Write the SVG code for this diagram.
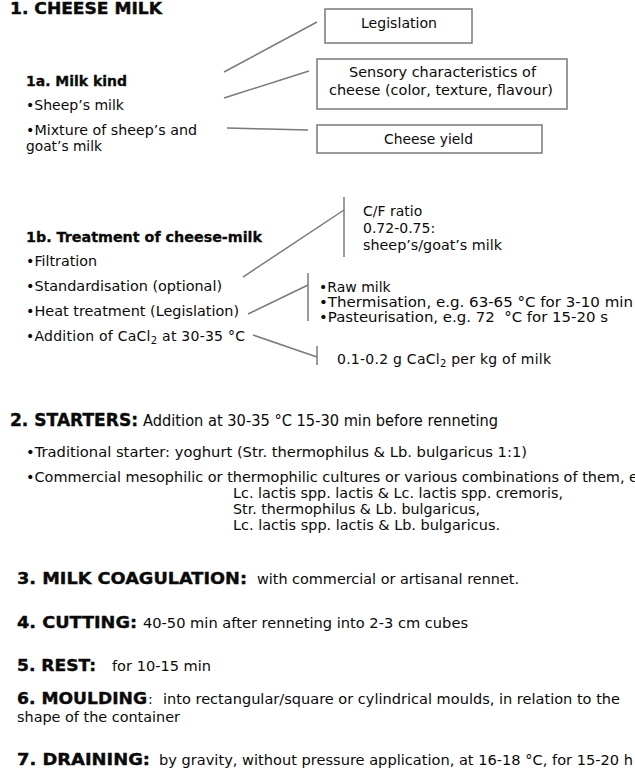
<svg xmlns="http://www.w3.org/2000/svg" width="635" height="774" viewBox="0 0 635 774">
<style>
text{font-family:"DejaVu Sans",Verdana,"Liberation Sans",sans-serif;font-size:14px;fill:#0a0a0a}
.b{font-weight:bold;stroke:#0a0a0a;stroke-width:0.3}
.h1{font-size:15px;font-weight:bold;stroke:#0a0a0a;stroke-width:0.4}
.h2{font-size:18px;font-weight:bold;stroke:#0a0a0a;stroke-width:0.4}
.h3{font-size:16.5px;font-weight:bold;stroke:#0a0a0a;stroke-width:0.4}
.s15{font-size:15px}
.ls{letter-spacing:0.25px}
.box{fill:#fff;stroke:#7a7a7a;stroke-width:1.5}
.ln{stroke:#7a7a7a;stroke-width:1.5;fill:none}
.sub{font-size:10px}
</style>
<rect width="635" height="774" fill="#fff"/>

<g id="connectors">
  <line class="ln" x1="224" y1="72" x2="317" y2="22"/>
  <line class="ln" x1="224" y1="98" x2="309" y2="71"/>
  <polyline class="ln" points="227,128 268,129 308,130"/>
  <line class="ln" x1="243" y1="277" x2="344" y2="210"/>
  <line class="ln" x1="344" y1="197" x2="344" y2="257"/>
  <line class="ln" x1="248" y1="314" x2="308" y2="285"/>
  <line class="ln" x1="308" y1="273" x2="308" y2="321"/>
  <line class="ln" x1="253" y1="335" x2="317" y2="357"/>
  <line class="ln" x1="317" y1="346" x2="317" y2="365"/>
</g>

<g id="title1">
  <text class="h1" x="10" y="14" textLength="152" lengthAdjust="spacingAndGlyphs">1. CHEESE MILK</text>
</g>

<g id="milk-kind">
  <text class="b" x="26" y="86" textLength="101" lengthAdjust="spacingAndGlyphs">1a. Milk kind</text>
  <text x="26" y="110" textLength="98" lengthAdjust="spacingAndGlyphs">•Sheep’s milk</text>
  <text x="26" y="135" textLength="171" lengthAdjust="spacingAndGlyphs">•Mixture of sheep’s and</text>
  <text x="26" y="151" textLength="76" lengthAdjust="spacingAndGlyphs">goat’s milk</text>
</g>

<g id="legislation">
  <rect class="box" x="325" y="9" width="147" height="34"/>
  <text x="361" y="28" textLength="76" lengthAdjust="spacingAndGlyphs">Legislation</text>
</g>

<g id="sensory">
  <rect class="box" x="317" y="59" width="250" height="50"/>
  <text x="349" y="77" textLength="187" lengthAdjust="spacingAndGlyphs">Sensory characteristics of</text>
  <text x="329" y="95" textLength="224" lengthAdjust="spacingAndGlyphs">cheese (color, texture, flavour)</text>
</g>

<g id="yield">
  <rect class="box" x="317" y="125" width="225" height="28"/>
  <text x="384" y="144" textLength="89" lengthAdjust="spacingAndGlyphs">Cheese yield</text>
</g>

<g id="treatment">
  <text class="b" x="26" y="242" textLength="236" lengthAdjust="spacingAndGlyphs">1b. Treatment of cheese-milk</text>
  <text x="26" y="266" textLength="71" lengthAdjust="spacingAndGlyphs">•Filtration</text>
  <text x="26" y="291" textLength="196" lengthAdjust="spacingAndGlyphs">•Standardisation (optional)</text>
  <text x="26" y="316" textLength="213" lengthAdjust="spacingAndGlyphs">•Heat treatment (Legislation)</text>
  <text class="ls" x="26" y="341">•Addition of CaCl<tspan class="sub" dy="3">2</tspan><tspan dy="-3"> at 30-35 °C</tspan></text>
</g>

<g id="cf-ratio">
  <text x="363" y="216">C/F ratio</text>
  <text x="363" y="233">0.72-0.75:</text>
  <text x="363" y="250" textLength="139" lengthAdjust="spacingAndGlyphs">sheep’s/goat’s milk</text>
</g>

<g id="heat-options">
  <text x="319" y="292">•Raw milk</text>
  <text x="319" y="307" textLength="314" lengthAdjust="spacingAndGlyphs">•Thermisation, e.g. 63-65 °C for 3-10 min</text>
  <text x="319" y="322" textLength="289" lengthAdjust="spacingAndGlyphs">•Pasteurisation, e.g. 72 &#160;°C for 15-20 s</text>
</g>

<g id="cacl2">
  <text class="ls" x="337" y="364">0.1-0.2 g CaCl<tspan class="sub" dy="3">2</tspan><tspan dy="-3"> per kg of milk</tspan></text>
</g>

<g id="starters">
  <text class="h2" x="10" y="426" textLength="128" lengthAdjust="spacingAndGlyphs">2. STARTERS:</text>
  <text class="s15" x="143" y="426" textLength="355" lengthAdjust="spacingAndGlyphs">Addition at 30-35 °C 15-30 min before renneting</text>
  <text x="26" y="457" textLength="501" lengthAdjust="spacingAndGlyphs">•Traditional starter: yoghurt (Str. thermophilus &amp; Lb. bulgaricus 1:1)</text>
  <text x="26" y="482" textLength="612" lengthAdjust="spacingAndGlyphs">•Commercial mesophilic or thermophilic cultures or various combinations of them, e</text>
  <text x="233" y="498" textLength="330" lengthAdjust="spacingAndGlyphs">Lc. lactis spp. lactis &amp; Lc. lactis spp. cremoris,</text>
  <text x="233" y="514" textLength="247" lengthAdjust="spacingAndGlyphs">Str. thermophilus &amp; Lb. bulgaricus,</text>
  <text x="233" y="530" textLength="267" lengthAdjust="spacingAndGlyphs">Lc. lactis spp. lactis &amp; Lb. bulgaricus.</text>
</g>

<g id="coagulation">
  <text class="h3" x="17" y="584" textLength="230" lengthAdjust="spacingAndGlyphs">3. MILK COAGULATION:</text>
  <text x="257" y="584" textLength="262" lengthAdjust="spacingAndGlyphs">with commercial or artisanal rennet.</text>
</g>

<g id="cutting">
  <text class="h3" x="17" y="628" textLength="120" lengthAdjust="spacingAndGlyphs">4. CUTTING:</text>
  <text x="143" y="628" textLength="325" lengthAdjust="spacingAndGlyphs">40-50 min after renneting into 2-3 cm cubes</text>
</g>

<g id="rest">
  <text class="h3" x="17" y="671" textLength="79" lengthAdjust="spacingAndGlyphs">5. REST:</text>
  <text x="112" y="671" textLength="99" lengthAdjust="spacingAndGlyphs">for 10-15 min</text>
</g>

<g id="moulding">
  <text class="h3" x="17" y="704" textLength="130" lengthAdjust="spacingAndGlyphs">6. MOULDING</text>
  <text x="148" y="704">:</text>
  <text x="163" y="704" textLength="457" lengthAdjust="spacingAndGlyphs">into rectangular/square or cylindrical moulds, in relation to the</text>
  <text x="17" y="722" textLength="163" lengthAdjust="spacingAndGlyphs">shape of the container</text>
</g>

<g id="draining">
  <text class="h3" x="17" y="765" textLength="133" lengthAdjust="spacingAndGlyphs">7. DRAINING:</text>
  <text x="159" y="765" textLength="474" lengthAdjust="spacingAndGlyphs">by gravity, without pressure application, at 16-18 °C, for 15-20 h</text>
</g>
</svg>
